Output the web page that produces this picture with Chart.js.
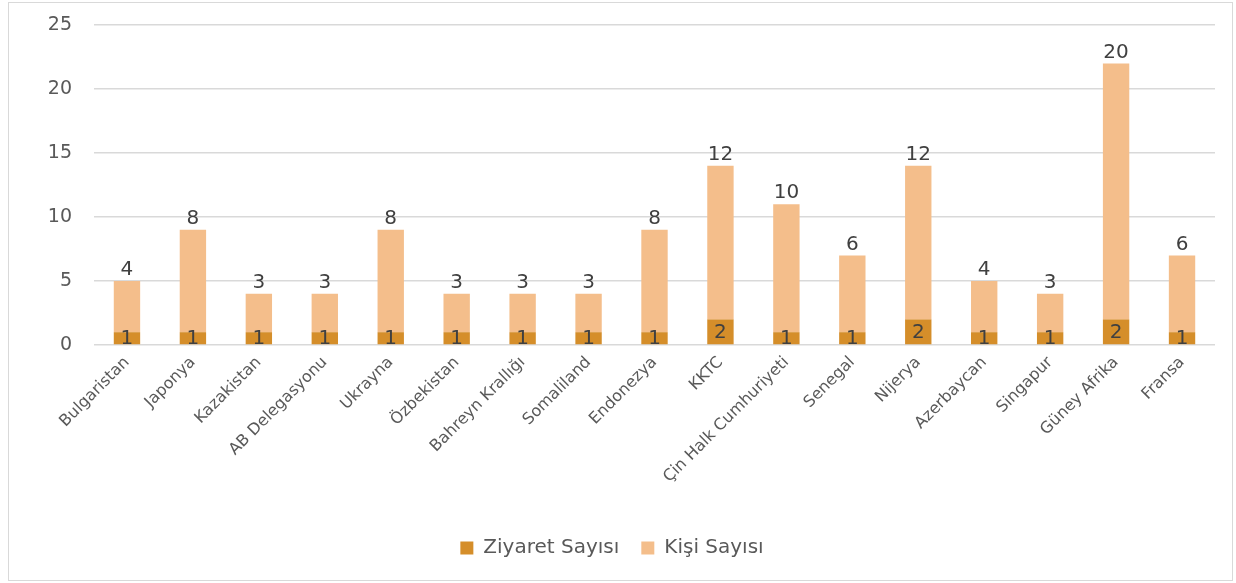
<!DOCTYPE html>
<html>
<head>
<meta charset="utf-8">
<script src="https://cdn.jsdelivr.net/npm/chart.js@4"></script>
<style>
  body { margin: 0; background: #fff; }
  #kutu { position: absolute; left: 8px; top: 2px; width: 1223px; height: 577px; border: 1px solid #d9d9d9; }
</style>
</head>
<body>
<div id="kutu"><canvas id="grafico-ziyaret" width="1223" height="577"></canvas></div>
<script>
// Ülkeler ve ziyaret verileri
var ulkeler = ["Bulgaristan", "Japonya", "Kazakistan", "AB Delegasyonu", "Ukrayna", "Özbekistan",
  "Bahreyn Krallığı", "Somaliland", "Endonezya", "KKTC", "Çin Halk Cumhuriyeti", "Senegal",
  "Nijerya", "Azerbaycan", "Singapur", "Güney Afrika", "Fransa"];
var ziyaretSayisi = [1, 1, 1, 1, 1, 1, 1, 1, 1, 2, 1, 1, 2, 1, 1, 2, 1];
var kisiSayisi = [4, 8, 3, 3, 8, 3, 3, 3, 8, 12, 10, 6, 12, 4, 3, 20, 6];
var yEksen = [0, 5, 10, 15, 20, 25];

var yazi = "'DejaVu Sans', sans-serif";

// Çubuk üstündeki değerler
var etiketler = {
  id: "etiketler",
  afterDatasetsDraw: function (chart) {
    var ctx = chart.ctx;
    ctx.save();
    ctx.font = "20px " + yazi;
    ctx.fillStyle = "#404040";
    ctx.textAlign = "center";
    chart.data.datasets.forEach(function (ds, i) {
      var meta = chart.getDatasetMeta(i);
      meta.data.forEach(function (bar, j) {
        if (i === 0) {
          ctx.textBaseline = "middle";
          ctx.fillText(ds.data[j], bar.x, (bar.y + bar.base) / 2 + 1);
        } else {
          ctx.textBaseline = "bottom";
          ctx.fillText(ds.data[j], bar.x, bar.y - 1);
        }
      });
    });
    ctx.restore();
  }
};

var ctx = document.getElementById("grafico-ziyaret").getContext("2d");

var grafico = new Chart(ctx, {
  type: "bar",
  data: {
    labels: ulkeler,
    datasets: [
      {
        label: "Ziyaret Sayısı",
        data: ziyaretSayisi,
        backgroundColor: "#D58E2A",
        borderWidth: 0,
        categoryPercentage: 1,
        barPercentage: 0.4,
      },
      {
        label: "Kişi Sayısı",
        data: kisiSayisi,
        backgroundColor: "#F4BE8B",
        borderWidth: 0,
        categoryPercentage: 1,
        barPercentage: 0.4,
      },
    ],
  },
  options: {
    responsive: false,
    animation: false,
    layout: { padding: { top: 22, right: 17, bottom: 12, left: 0 } },
    plugins: {
      tooltip: { enabled: false },
      legend: {
        position: "bottom",
        labels: {
          font: { family: yazi, size: 20 },
          color: "#595959",
          boxWidth: 13,
          boxHeight: 13,
          padding: 22,
        },
      },
    },
    scales: {
      x: {
        stacked: true,
        grid: { display: false },
        border: { display: false },
        ticks: {
          font: { family: yazi, size: 16 },
          color: "#595959",
          minRotation: 45,
          maxRotation: 45,
          padding: 0,
          autoSkip: false,
        },
        afterFit: function (scale) { scale.height = 171; },
      },
      y: {
        stacked: true,
        min: 0,
        max: 25,
        afterBuildTicks: function (scale) {
          scale.ticks = yEksen.map(function (v) { return { value: v }; });
        },
        grid: { color: "#d9d9d9", lineWidth: 1.5, drawTicks: false },
        border: { display: false },
        ticks: {
          font: { family: yazi, size: 19 },
          color: "#595959",
          padding: 22,
        },
        afterFit: function (scale) {
          scale.width = 85;
          scale.paddingTop = 0;
          scale.paddingBottom = 0;
        },
      },
    },
  },
  plugins: [etiketler],
});
</script>
</body>
</html>
